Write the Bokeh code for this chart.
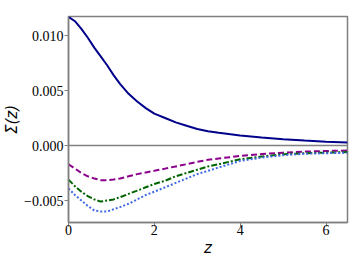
from bokeh.plotting import figure
from bokeh.models import FixedTicker, Span, Range1d
from bokeh.embed import file_html
from bokeh.resources import INLINE

z = [0, 0.15, 0.3, 0.45, 0.6, 0.75, 0.9, 1.05, 1.2, 1.4, 1.6, 1.8, 2.0,
     2.25, 2.5, 2.75, 3.0, 3.25, 3.5, 4.0, 4.5, 5.0, 5.5, 6.0, 6.5]
sigma_total = [0.0117, 0.0113, 0.0106, 0.0098, 0.0089, 0.0081, 0.0073, 0.0064,
               0.0056, 0.0047, 0.0040, 0.0034, 0.0029, 0.0025, 0.0021, 0.0018,
               0.0015, 0.0013, 0.00116, 0.00092, 0.00073, 0.00057, 0.00045,
               0.00035, 0.00028]
sigma_a = [-0.0017, -0.0021, -0.0025, -0.0028, -0.0030, -0.00315, -0.00315,
           -0.0031, -0.0030, -0.0028, -0.0026, -0.00245, -0.0023, -0.0021,
           -0.0019, -0.0017, -0.00148, -0.0013, -0.00118, -0.00095, -0.00078,
           -0.00065, -0.00055, -0.0005, -0.00045]
sigma_b = [-0.0031, -0.0037, -0.0042, -0.0046, -0.0049, -0.0051, -0.0050,
           -0.0049, -0.0047, -0.0044, -0.0041, -0.0038, -0.0035, -0.0032,
           -0.0028, -0.0025, -0.0022, -0.0019, -0.0017, -0.00125, -0.001,
           -0.0008, -0.0007, -0.00065, -0.0006]
sigma_c = [-0.0039, -0.0045, -0.0050, -0.0055, -0.0059, -0.0060, -0.0060,
           -0.0058, -0.0056, -0.0053, -0.0049, -0.0045, -0.0042, -0.0038,
           -0.0034, -0.0030, -0.0026, -0.0023, -0.0020, -0.0014, -0.0011,
           -0.00088, -0.00075, -0.0007, -0.00066]

x_ticks = [0, 2, 4, 6]
y_ticks = [-0.005, 0.0, 0.005, 0.010]
y_labels = {-0.005: "\u22120.005", 0.0: "0.000", 0.005: "0.005", 0.010: "0.010"}
x_title = "z"
y_title = "\u03a3(z)"

p = figure(width=350, height=259, output_backend="svg", toolbar_location=None,
           x_range=Range1d(0, 6.5), y_range=Range1d(-0.0070, 0.01173),
           min_border_left=67, min_border_right=3, min_border_top=16,
           min_border_bottom=37)
p.grid.visible = False
p.outline_line_color = "#808080"
p.outline_line_width = 1.5

p.add_layout(Span(location=0, dimension="width", line_color="#808080",
                  line_width=1.5))

p.line(z, sigma_total, line_color="#00008B", line_width=2)
p.line(z, sigma_a, line_color="#8B008B", line_width=2, line_dash="6 3")
p.line(z, sigma_b, line_color="#006400", line_width=2, line_dash="6 2 2 2")
p.line(z, sigma_c, line_color="#4169E1", line_width=2, line_dash="2 2")

p.xaxis.ticker = FixedTicker(ticks=x_ticks)
p.yaxis.ticker = FixedTicker(ticks=y_ticks)
p.yaxis.major_label_overrides = y_labels
for ax in (p.xaxis[0], p.yaxis[0]):
    ax.axis_line_color = "#808080"
    ax.axis_line_width = 1.5
    ax.major_tick_line_color = "#808080"
    ax.major_tick_in = 0
    ax.major_tick_out = 4
    ax.minor_tick_line_color = None
    ax.major_label_text_font = "Liberation Serif"
    ax.major_label_text_font_size = "14px"
    ax.major_label_text_color = "black"
    ax.axis_label_text_font = "DejaVu Sans"
    ax.axis_label_text_font_style = "italic"
    ax.axis_label_text_font_size = "15px"
    ax.axis_label_text_color = "black"
p.yaxis.major_label_standoff = 1
p.xaxis.major_label_standoff = -2
p.xaxis.axis_label = x_title
p.xaxis.axis_label_standoff = 1
p.yaxis.axis_label = y_title
p.yaxis.axis_label_standoff = 0

open("out.html", "w").write(file_html(p, INLINE))
